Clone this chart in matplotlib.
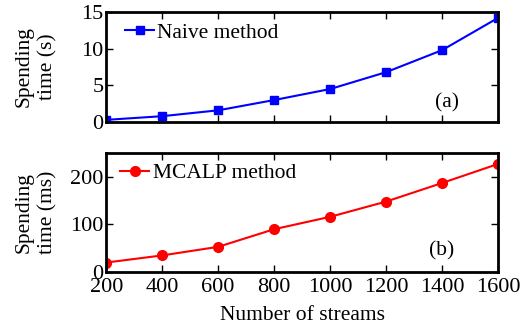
import matplotlib
matplotlib.use("Agg")
import matplotlib.pyplot as plt

streams = [200, 400, 600, 800, 1000, 1200, 1400, 1600]
naive_s = [0.3, 0.8, 1.6, 3.0, 4.5, 6.8, 9.8, 14.2]
mcalp_ms = [20, 35, 53, 90, 116, 148, 187, 227]

plt.rcParams["font.family"] = ["Liberation Serif", "DejaVu Serif"]
plt.rcParams["font.size"] = 15.5

fig = plt.figure(figsize=(5.31, 3.29), dpi=100)
ax1 = fig.add_axes([0.2, 0.629, 0.738, 0.3345])
ax2 = fig.add_axes([0.2, 0.173, 0.738, 0.362])

ax1.plot(streams, naive_s, color="blue", marker="s", markersize=6, lw=1.5, label="Naive method")
ax2.plot(streams, mcalp_ms, color="red", marker="o", markersize=7, lw=1.5, label="MCALP method")

legend_pos = {ax1: (0.048, 0.81), ax2: (0.036, 0.83)}
for ax in (ax1, ax2):
    ax.set_xlim(200, 1600)
    ax.set_xticks(streams)
    ax.tick_params(direction="in", top=True, right=True, length=5, width=1, labelsize=16, pad=2)
    for sp in ax.spines.values():
        sp.set_linewidth(2)
        sp.set_color("black")
    ax.legend(loc="center left", bbox_to_anchor=legend_pos[ax], frameon=False, fontsize=15.5,
              handlelength=1.35, handletextpad=0.15, borderaxespad=0, borderpad=0)
    ax.yaxis.set_label_coords(-0.125, 0.5)

ax1.set_ylim(0, 15)
ax1.set_yticks([0, 5, 10, 15])
ax1.tick_params(labelbottom=False)
ax1.set_ylabel("Spending\ntime (s)", fontsize=15.5, linespacing=1.3)
ax1.text(0.87, 0.173, "(a)", transform=ax1.transAxes, fontsize=15.5, ha="center", va="center")

ax2.set_ylim(0, 250)
ax2.set_yticks([0, 100, 200])
ax2.tick_params(axis="x", pad=4)
ax2.set_ylabel("Spending\ntime (ms)", fontsize=15.5, linespacing=1.3)
ax2.set_xlabel("Number of streams", fontsize=15.5, labelpad=7)
ax2.text(0.857, 0.176, "(b)", transform=ax2.transAxes, fontsize=15.5, ha="center", va="center")

fig.savefig("out.png", dpi=100)
